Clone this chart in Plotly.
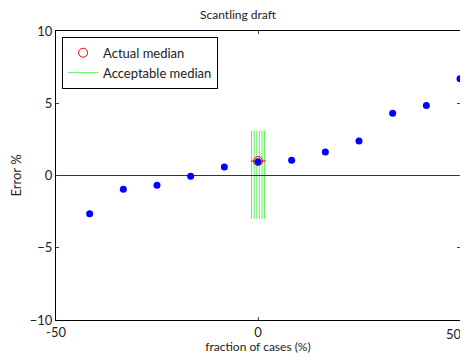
import plotly.graph_objects as go

x_vals = [-41.67, -33.33, -25.0, -16.67, -8.33, 0.0, 8.33, 16.67, 25.0, 33.33, 41.67, 50.0]
err_vals = [-2.65, -0.95, -0.68, -0.05, 0.58, 0.95, 1.05, 1.62, 2.38, 4.3, 4.85, 6.7]
median_x = 0.0
median_y = 1.0
accept_x = [-1.6, -0.95, -0.3, 0.35, 1.0, 1.6]
accept_lo = -3.0
accept_hi = 3.1
median_bar = [-1.8, 2.0]
x_ticks = [-50, 0, 50]
x_ticktext = ["-50", "0", ""]
y_ticks = [-10, -5, 0, 5, 10]

fig = go.Figure()

# acceptable median lines
lx, ly = [], []
for a in accept_x:
    lx += [a, a, None]
    ly += [accept_lo, accept_hi, None]
fig.add_trace(go.Scatter(x=lx, y=ly, mode="lines", line=dict(color="#33ee33", width=0.8),
                         name="Acceptable median", showlegend=True))
# zero line
fig.add_trace(go.Scatter(x=[-50, 50], y=[0, 0], mode="lines", line=dict(color="#333333", width=1),
                         showlegend=False, hoverinfo="skip"))
# median bar
fig.add_trace(go.Scatter(x=median_bar, y=[median_y, median_y], mode="lines",
                         line=dict(color="red", width=1), showlegend=False))
# data points
fig.add_trace(go.Scatter(x=x_vals, y=err_vals, mode="markers",
                         marker=dict(color="blue", size=7), showlegend=False, cliponaxis=False))
# actual median
fig.add_trace(go.Scatter(x=[median_x], y=[median_y], mode="markers",
                         marker=dict(symbol="circle-open", color="red", size=9, line=dict(width=1)),
                         name="Actual median"))

fig.update_layout(
    width=460, height=346,
    margin=dict(l=48, r=8, t=23, b=34, autoexpand=False),
    paper_bgcolor="white", plot_bgcolor="white",
    font=dict(family="Lato", size=12, color="#222222"),
    title=dict(text="Scantling draft", x=0.5, xanchor="center", y=0.98, yanchor="middle",
               font=dict(size=12)),
    legend=dict(x=0.015, y=0.98, xanchor="left", yanchor="top", bgcolor="white",
                bordercolor="black", borderwidth=1, traceorder="reversed",
                font=dict(size=13), tracegroupgap=0),
    showlegend=True,
)
# last x tick label placed so it stays inside the visible window
fig.add_annotation(text=str(x_ticks[-1]), x=x_ticks[-1], xref="x", xanchor="right", xshift=4,
                   y=0, yref="paper", yanchor="top", yshift=-4, showarrow=False,
                   font=dict(size=13, color="#222222"))
fig.update_xaxes(range=[-50, 50], tickvals=x_ticks, ticktext=x_ticktext, ticks="inside", ticklen=3,
                 showline=True, linecolor="black", linewidth=1, mirror="ticks",
                 showgrid=False, zeroline=False, tickfont=dict(size=13), automargin=False,
                 ticklabeloverflow="allow",
                 title=dict(text="fraction of cases (%)", font=dict(size=12), standoff=5))
fig.update_yaxes(range=[-10, 10], tickvals=y_ticks, ticks="inside", ticklen=3,
                 showline=True, linecolor="black", linewidth=1, mirror="ticks",
                 showgrid=False, zeroline=False, tickfont=dict(size=13), automargin=False,
                 ticklabeloverflow="allow",
                 title=dict(text="Error %", font=dict(size=13), standoff=14))

fig.write_html("out.html")
